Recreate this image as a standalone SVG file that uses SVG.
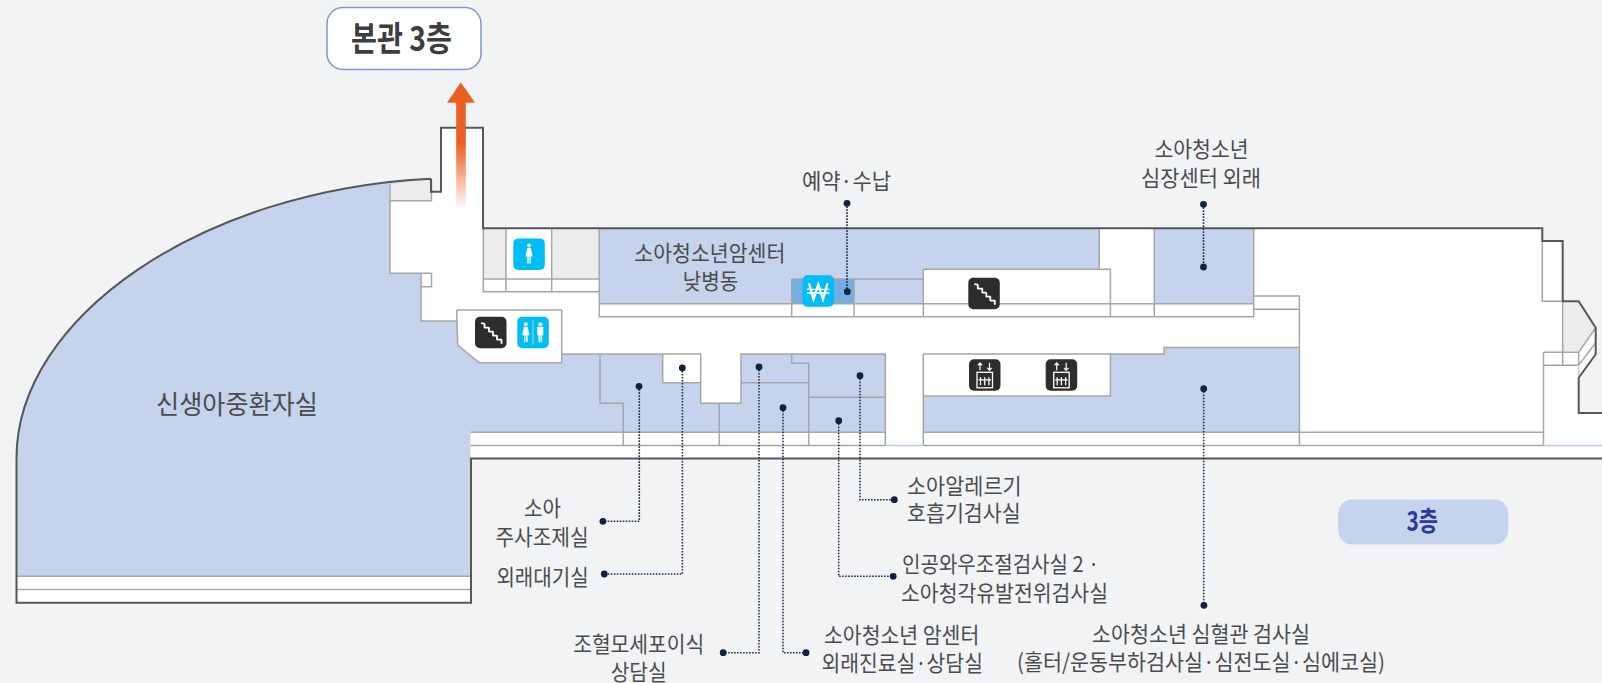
<svg xmlns="http://www.w3.org/2000/svg" width="1602" height="683" viewBox="0 0 1602 683">
<style>
.bg{fill:#f2f3f5}
.blue{fill:#c5d3ec}
.grayroom{fill:#ececec}
.wall{fill:none;stroke:#a4a6a8;stroke-width:1.5}
.outer{fill:none;stroke:#555759;stroke-width:2;stroke-linejoin:miter}
.dot{fill:#0f2240}
.lead{fill:none;stroke:#1f2f4f;stroke-width:1.6;stroke-dasharray:1.6 1.4}
text{font-family:"Noto Sans CJK KR","Noto Sans",sans-serif;fill:#4a4b4d;font-size:22px;text-anchor:start}
.cy{fill:#00bdf5}
.dk{fill:#2d2d2d}
.wl{fill:none;stroke:#fff;stroke-width:1.5}
.wf{fill:#fff}
</style>
<defs>
<linearGradient id="shaft" gradientUnits="userSpaceOnUse" x1="0" y1="210" x2="0" y2="143">
<stop offset="0" stop-color="#ec5f22" stop-opacity="0"/>
<stop offset="1" stop-color="#ec5f22"/>
</linearGradient>
<g id="woman"><circle cx="0" cy="0" r="1.9" class="wf"/><path class="wf" d="M-1.8,2.6 H1.8 L3.6,11 H1.8 V18 H0.4 V11 H-0.4 V18 H-1.8 V11 H-3.6 Z"/></g>
<g id="man"><circle cx="0" cy="0" r="1.9" class="wf"/><path class="wf" d="M-3,2.6 H3 V11 H1.8 V18 H0.3 V11 H-0.3 V18 H-1.8 V11 H-3 Z"/></g>
<g id="i-stairs"><rect width="31.5" height="31.5" rx="5" class="dk"/><path class="wl" style="stroke-width:1.800" d="M6,6.500 L9.500,7 9.500,11 14,11 14,15 18,15 18,19 22,19 22,23 26.500,23 26.500,27" stroke-linejoin="bevel"/></g>
<g id="i-elev"><rect width="31.500" height="31.500" rx="5" class="dk"/>
<path class="wl" style="stroke-width:1.200" d="M11,11 V4 M8.800,6 L11,3.500 13.200,6 M20.500,3.500 V10.500 M18.300,8.500 L20.500,11 22.700,8.500"/>
<rect x="8" y="13" width="15.500" height="15.500" class="wl" style="stroke-width:1.300"/>
<path class="wl" style="stroke-width:1.300" d="M11.500,18 V26 M15.700,18 V26 M19.900,18 V26 M9.500,20.500 H22"/></g>
<g id="i-wc"><rect width="31.500" height="31.500" rx="5" class="cy"/><use href="#woman" x="8.500" y="7.500"/><use href="#man" x="23" y="7.500"/><path d="M15.700,3.500 V28" stroke="#9fe3fb" stroke-width="1"/></g>
<g id="i-woman"><rect width="31.500" height="31.500" rx="5" class="cy"/><use href="#woman" x="15.750" y="7"/></g>
<g id="i-won"><rect width="31.500" height="31.500" rx="5" class="cy"/><path class="wl" style="stroke-width:2.200" d="M6.500,8 L11,24 15.750,9 20.500,24 25,8"/><path class="wl" style="stroke-width:1.300" d="M4.500,14 H27 M4.500,17.700 H27"/></g>
</defs>

<rect class="bg" width="1602" height="683"/>

<g id="plan">
<path fill="#fff" d="M431,178.700 V191.700 H441 V127.700 H483 V228.300 H1542.300 V241 H1562.700 V301.300 H1578.700 L1595.700,327.700 V354.300 L1578.700,377.700 V413 H1602 V458.500 H471 V602.800 H16.500 V458 C16.500,318 200,190 431,178.700 Z"/>
<path id="neonatal-room" class="blue" d="M16.500,458 C16.500,318 200,190 431,178.700 V200.700 H390 V273.300 H421 V321 H456.700 L457.700,345 479,362.700 H561.700 V354 H885.300 V432.200 H470.500 V576.200 H16.500 Z"/>
<path class="wf" d="M662.700,354 H741 V403.300 H700.700 V382.700 H662.700 Z"/>
<path class="blue" d="M599.300,229 H1099.200 V269.300 H923.300 V303.700 H599.300 Z"/>
<rect x="791.700" y="279" width="62.300" height="24.700" fill="#73aee0"/>
<rect class="blue" x="1154.300" y="229" width="99.400" height="74.700"/>
<path class="blue" d="M923.300,354 H1164.100 V347.400 H1299.400 V432.200 H923.300 Z"/>
<rect class="wf" x="923.300" y="354" width="187.100" height="42"/>
<path class="grayroom" d="M390,184 L431,179 V200.700 H390 Z"/>
<rect class="grayroom" x="483.300" y="229" width="22.700" height="50"/>
<rect class="grayroom" x="551.700" y="229" width="47.600" height="50"/>
<path class="grayroom" d="M1562.700,301.300 H1578.700 L1595.700,327.700 1578.700,352.300 H1562.700 Z"/>

<path class="wall" d="M390,184 V273.300 H431.500 M390,200.700 H431.500 V179 M431.500,273.300 V286.700 H421 V273.300 M421,286.700 V321 H456.700 M456.700,310 H561.700 V362.700 H479 L457.700,345 456.700,310
M483.300,229 V291.700 H599.300 V316.700 H1253.700 M483.300,279 H599.300 M506,229 V291.700 M551.700,229 V291.700 M599.300,229 V316.700
M599.300,303.700 H1253.700 M791.700,279 H923.300 M791.700,279 V316.700 M854,279 V316.700 M923.300,269.300 H1110.400 V316.700 M923.300,269.300 V316.700 M1099.200,229 V269.300 M1154.300,229 V316.700 M1253.700,229 V316.700
M1253.700,296 H1299.400 V445.500 M1253.700,309.300 H1299.400
M561.700,354 H700.700 V403.300 H741 V354 H885.300 V445.500 M662.700,354 V382.700 H700.700 M600,354 V403.300 H623.300 V445.500 M719.300,403.300 V445.500 M741,382.700 H808.700 M791.700,354 V363.300 H808.700 V445.500 M808.700,397.300 H885.300
M470.500,432.200 H885.300 M470.500,445.500 H885.300 M923.300,354 H1164.100 V347.400 H1299.400 M923.300,354 V445.500 M923.300,396 H1110.400 V354 M923.300,432.200 H1543.500 M923.300,445.500 H1543.500
M1543.500,352.300 V445.500 M1543.500,352.300 H1578.700 V365.300 M1543.500,365.300 H1578.700 M1562.700,301.300 V365.300 M1542.300,241 V301.300 H1562.700 M1578.700,352.300 L1595.700,327.700 M1578.700,365.300 L1595.700,342.700
M16.500,576.200 H470.500 M16.500,589.500 H470.500"/>
<path d="M885.300,445.500 H923.300 M1544,445.500 H1602 M1578.700,365.300 V377.700" fill="none" stroke="#b4cdec" stroke-width="1.300"/>
<path class="outer" d="M431,178.700 V191.700 H441 V127.700 H483 V228.300 H1542.300 V241 H1562.700 V301.300 H1578.700 L1595.700,327.700 V354.300 L1578.700,377.700 V413 H1602 M1602,458.500 H471 V602.800 H16.500 V458 C16.500,318 200,190 431,178.700"/>
</g>

<g id="icons">
<use id="icon-women" href="#i-woman" x="513.300" y="238.400"/>
<use id="icon-stairs-1" href="#i-stairs" x="475" y="316.700"/>
<use id="icon-wc" href="#i-wc" x="517.300" y="316.700"/>
<use id="icon-won" href="#i-won" x="802.500" y="275.300"/>
<use id="icon-stairs-2" href="#i-stairs" x="968.300" y="277.700"/>
<use id="icon-elev-1" href="#i-elev" x="969" y="359.300"/>
<use id="icon-elev-2" href="#i-elev" x="1045.700" y="359.300"/>
</g>

<g id="connectors">
<path class="lead" d="M847,203.300 V291.700"/>
<path class="lead" d="M1203.500,204.300 V267"/>
<path class="lead" d="M1203.700,388.700 V605.300"/>
<path class="lead" d="M639.300,386.300 V521.300 H602.900"/>
<path class="lead" d="M682.400,368 V574 H604.300"/>
<path class="lead" d="M759,367 V652.700 H723.200"/>
<path class="lead" d="M783,407.700 V652.700 H806"/>
<path class="lead" d="M860,375.700 V499.700 H894.300"/>
<path class="lead" d="M838.700,420.700 V576.300 H893.200"/>
<circle class="dot" cx="847" cy="203.300" r="3.400"/><circle class="dot" cx="847.300" cy="291.700" r="3.400"/>
<circle class="dot" cx="1203.500" cy="204.300" r="3.400"/><circle class="dot" cx="1203.500" cy="267" r="3.400"/>
<circle class="dot" cx="1203.700" cy="388.700" r="3.400"/><circle class="dot" cx="1203.900" cy="605.300" r="3.400"/>
<circle class="dot" cx="639" cy="386.300" r="3.400"/><circle class="dot" cx="602.900" cy="521.300" r="3.400"/>
<circle class="dot" cx="682.300" cy="368" r="3.400"/><circle class="dot" cx="604.300" cy="574" r="3.400"/>
<circle class="dot" cx="759" cy="367" r="3.400"/><circle class="dot" cx="723.200" cy="652.700" r="3.400"/>
<circle class="dot" cx="783" cy="407.700" r="3.400"/><circle class="dot" cx="806" cy="652.700" r="3.400"/>
<circle class="dot" cx="860" cy="375.700" r="3.400"/><circle class="dot" cx="894.300" cy="499.700" r="3.400"/>
<circle class="dot" cx="838.700" cy="420.700" r="3.400"/><circle class="dot" cx="893.200" cy="576.300" r="3.400"/>
</g>

<g id="node-main-building">
<rect x="327" y="7.500" width="154" height="62" rx="16" fill="#fff" stroke="#8095cf" stroke-width="1.500"/>
<text x="351" y="51" style="font-size:34px;font-weight:700;fill:#3c3d3f" textLength="101" lengthAdjust="spacingAndGlyphs">본관 3층</text>
</g>
<g id="node-arrow">
<rect x="456.200" y="102" width="9.600" height="108" fill="url(#shaft)"/>
<path d="M460.800,82.300 L475,102.700 H447 Z" fill="#ec5f22"/>
</g>
<g id="node-floor">
<rect x="1338.200" y="499.500" width="170" height="45" rx="14" class="blue"/>
<text x="1406.500" y="531" style="font-size:27px;font-weight:700;fill:#2a3a9a" textLength="31.500" lengthAdjust="spacingAndGlyphs">3층</text>
</g>
<g id="label-neonatal"><text x="156" y="414" style="font-size:26px" textLength="162" lengthAdjust="spacingAndGlyphs">신생아중환자실</text></g>
<g id="label-daycare">
<text x="634.300" y="260.500" textLength="151" lengthAdjust="spacingAndGlyphs">소아청소년암센터</text>
<text x="682.700" y="289" textLength="55.500" lengthAdjust="spacingAndGlyphs">낮병동</text>
</g>
<g id="label-reservation"><text x="802" y="188.500" textLength="89" lengthAdjust="spacingAndGlyphs">예약·수납</text></g>
<g id="label-cardiac">
<text x="1154.500" y="157" textLength="94" lengthAdjust="spacingAndGlyphs">소아청소년</text>
<text x="1141" y="186" textLength="120" lengthAdjust="spacingAndGlyphs">심장센터 외래</text>
</g>
<g id="label-injection">
<text x="524" y="515.500" textLength="37" lengthAdjust="spacingAndGlyphs">소아</text>
<text x="495.400" y="545" textLength="93.200" lengthAdjust="spacingAndGlyphs">주사조제실</text>
</g>
<g id="label-waiting"><text x="496.400" y="585" textLength="92.200" lengthAdjust="spacingAndGlyphs">외래대기실</text></g>
<g id="label-stemcell">
<text x="573.200" y="651.500" textLength="131" lengthAdjust="spacingAndGlyphs">조혈모세포이식</text>
<text x="610.700" y="680" textLength="56" lengthAdjust="spacingAndGlyphs">상담실</text>
</g>
<g id="label-cancer-outpatient">
<text x="824" y="643" textLength="155.300" lengthAdjust="spacingAndGlyphs">소아청소년 암센터</text>
<text x="821.400" y="670.500" textLength="161.500" lengthAdjust="spacingAndGlyphs">외래진료실·상담실</text>
</g>
<g id="label-allergy">
<text x="907" y="493.500" textLength="114.700" lengthAdjust="spacingAndGlyphs">소아알레르기</text>
<text x="907" y="520.500" textLength="113.700" lengthAdjust="spacingAndGlyphs">호흡기검사실</text>
</g>
<g id="label-cochlear">
<text x="902" y="571.500" textLength="197.300" lengthAdjust="spacingAndGlyphs">인공와우조절검사실 2 ·</text>
<text x="901" y="600.500" textLength="207" lengthAdjust="spacingAndGlyphs">소아청각유발전위검사실</text>
</g>
<g id="label-vascular">
<text x="1092" y="641.500" textLength="218" lengthAdjust="spacingAndGlyphs">소아청소년 심혈관 검사실</text>
<text x="1017" y="670" textLength="368" lengthAdjust="spacingAndGlyphs">(홀터/운동부하검사실·심전도실·심에코실)</text>
</g>
</svg>
